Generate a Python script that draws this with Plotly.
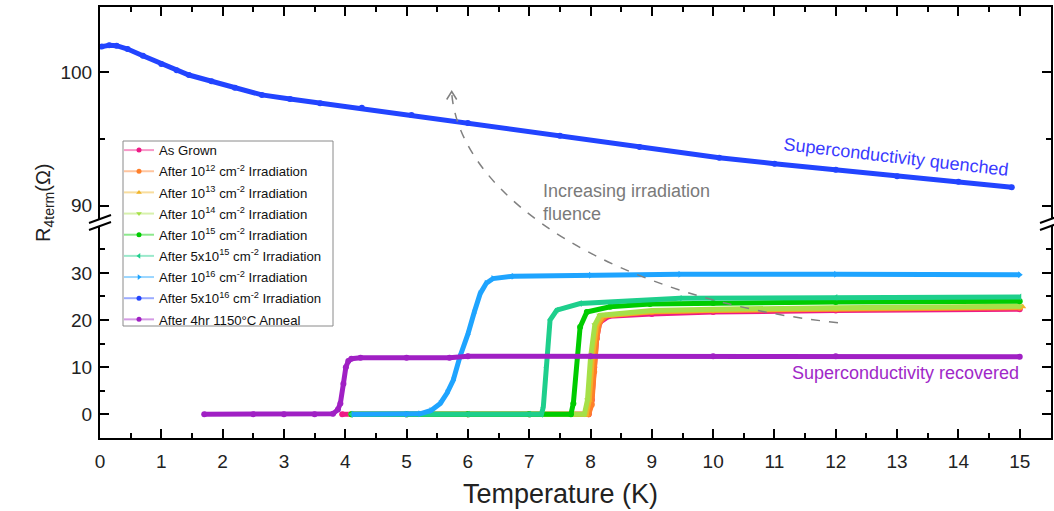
import plotly.graph_objects as go

# ---------------- data ----------------
names = [
    "As Grown",
    "After 10<sup>12</sup> cm<sup>-2</sup> Irradiation",
    "After 10<sup>13</sup> cm<sup>-2</sup> Irradiation",
    "After 10<sup>14</sup> cm<sup>-2</sup> Irradiation",
    "After 10<sup>15</sup> cm<sup>-2</sup> Irradiation",
    "After 5x10<sup>15</sup> cm<sup>-2</sup> Irradiation",
    "After 10<sup>16</sup> cm<sup>-2</sup> Irradiation",
    "After 5x10<sup>16</sup> cm<sup>-2</sup> Irradiation",
    "After 4hr 1150°C Anneal",
]
colors = ["#ee1a86", "#ff7f2a", "#f0b428", "#a6e048", "#00cc00",
          "#1ecf8c", "#1ea4ff", "#2244ff", "#a020c4"]
light = ["rgba(238,26,134,0.45)", "rgba(255,127,42,0.45)", "rgba(240,180,40,0.45)",
         "rgba(166,224,72,0.45)", "rgba(0,204,0,0.45)", "rgba(30,207,140,0.45)",
         "rgba(30,164,255,0.45)", "rgba(34,68,255,0.45)", "rgba(160,32,196,0.45)"]
symbols = ["circle", "circle", "triangle-up", "triangle-down", "circle",
           "triangle-left", "triangle-right", "circle", "circle"]

T_grown = [3.95, 5.0, 6.0, 7.0, 7.97, 8.02, 8.06, 8.1, 8.15, 8.3, 9.0, 10.0, 12.0, 15.0]
R_grown = [0, 0, 0, 0, 0, 3, 10, 16, 19.5, 20.8, 21.3, 21.7, 22.0, 22.3]

T_e12 = [4.1, 5.0, 6.0, 7.0, 7.97, 8.02, 8.06, 8.1, 8.15, 8.25, 9.0, 10.0, 12.0, 15.0]
R_e12 = [0, 0, 0, 0, 0, 2, 9, 16, 19.5, 20.9, 21.7, 22.0, 22.3, 22.6]

T_e13 = [4.1, 5.0, 6.0, 7.0, 7.93, 7.98, 8.03, 8.1, 8.2, 9.0, 10.0, 12.0, 15.05]
R_e13 = [0, 0, 0, 0, 0, 3, 12, 19, 20.9, 21.8, 22.1, 22.4, 22.8]

T_e14 = [4.1, 5.0, 6.0, 7.0, 7.9, 7.95, 8.0, 8.07, 8.15, 9.0, 10.0, 12.0, 15.0]
R_e14 = [0, 0, 0, 0, 0, 3, 12, 19, 21.0, 22.0, 22.3, 22.6, 22.9]

T_e15 = [4.1, 5.0, 6.0, 7.0, 7.68, 7.72, 7.78, 7.83, 7.94, 8.32, 8.97, 10.0, 12.0, 15.0]
R_e15 = [0, 0, 0, 0, 0, 2.3, 12.2, 18.5, 21.7, 22.8, 23.4, 23.6, 23.8, 24.0]

T_5e15 = [4.1, 5.0, 6.0, 7.0, 7.2, 7.23, 7.28, 7.34, 7.45, 7.83, 9.46, 12.0, 15.0]
R_5e15 = [0, 0, 0, 0, 0, 1.5, 10, 20, 22.1, 23.5, 24.6, 24.8, 24.9]

T_e16 = [4.13, 5.0, 5.22, 5.4, 5.55, 5.66, 5.76, 5.87, 6.0, 6.1, 6.2, 6.3, 6.41, 6.74,
         8.0, 9.46, 12.0, 15.0]
R_e16 = [0, 0, 0.1, 0.8, 2.3, 4.5, 7.2, 12.2, 17.0, 21.5, 25.6, 27.8, 28.8, 29.3,
         29.5, 29.7, 29.7, 29.6]

T_5e16 = [0.03, 0.15, 0.27, 0.45, 0.7, 1.0, 1.25, 1.45, 1.82, 2.2, 2.64, 3.1, 3.59, 4.27,
          5.08, 6.0, 7.5, 8.8, 10.1, 11.0, 12.0, 13.0, 14.0, 14.87]
R_5e16 = [101.93, 102.03, 102.0, 101.75, 101.25, 100.63, 100.15, 99.8, 99.33, 98.85,
          98.31, 98.0, 97.69, 97.34, 96.8, 96.2, 95.25, 94.4, 93.6, 93.15, 92.7, 92.2,
          91.8, 91.38]

T_anneal = [1.7, 2.5, 3.0, 3.5, 3.8, 3.88, 3.92, 3.97, 4.01, 4.05, 4.1, 4.25, 5.0, 5.7,
            6.0, 8.0, 10.0, 12.0, 15.0]
R_anneal = [0, 0, 0, 0, 0.1, 1.0, 2.3, 6.5, 10.0, 11.3, 11.8, 12.0, 12.0, 12.0,
            12.3, 12.3, 12.3, 12.3, 12.2]

series_T = [T_grown, T_e12, T_e13, T_e14, T_e15, T_5e15, T_e16, T_5e16, T_anneal]
series_R = [R_grown, R_e12, R_e13, R_e14, R_e15, R_5e15, R_e16, R_5e16, R_anneal]
upper = [False, False, False, False, False, False, False, True, False]

x_ticks = list(range(0, 16))
y_low_ticks = [0, 10, 20, 30]
y_up_ticks = [90, 100]

# ---------------- figure ----------------
W, H = 1054, 511
ML, MR, MT, MB = 100, 3, 7, 73
PW, PH = W - ML - MR, H - MT - MB


def px(x):
    return (x - ML) / PW


def py(y):
    return (H - MB - y) / PH


fig = go.Figure()

for i in range(len(names)):
    xa, ya = ("x2", "y2") if upper[i] else ("x", "y")
    fig.add_trace(go.Scatter(
        x=series_T[i], y=series_R[i], xaxis=xa, yaxis=ya,
        mode="lines+markers", showlegend=False,
        line=dict(color=colors[i], width=5),
        marker=dict(color=colors[i], size=6, symbol=symbols[i]),
    ))

# legend-only entries (thin line + small marker like the reference legend)
for i in range(len(names)):
    fig.add_trace(go.Scatter(
        x=[None], y=[None], name=names[i], mode="lines+markers",
        legendgroup="g%d" % i,
        line=dict(color=light[i], width=2),
        marker=dict(color=colors[i], size=5, symbol=symbols[i]),
    ))

tick_font = dict(family="Liberation Sans, Arial", size=19, color="#222")
axis_common = dict(showline=True, linecolor="black", linewidth=2, ticks="inside",
                   ticklen=9, tickwidth=2, tickcolor="black", showgrid=False,
                   zeroline=False, tickfont=tick_font)
minor_x = dict(dtick=0.5, ticks="inside", ticklen=5, tickwidth=1.5, tickcolor="black")

fig.update_layout(
    width=W, height=H,
    margin=dict(l=ML, r=MR, t=MT, b=MB, autoexpand=False),
    paper_bgcolor="white", plot_bgcolor="white",
    xaxis=dict(domain=[0, 1], anchor="y", range=[0, 15.51], tickvals=x_ticks,
               minor=minor_x, ticklabelstandoff=5, **axis_common),
    xaxis2=dict(domain=[0, 1], anchor="y2", matches="x", side="top", showticklabels=False,
                range=[0, 15.51], tickvals=x_ticks, minor=minor_x, **axis_common),
    yaxis=dict(domain=[0, 0.5], anchor="x", range=[-5.04, 40.7], tickvals=y_low_ticks,
               mirror="ticks", ticklabelstandoff=2,
               minor=dict(tickvals=[5, 15, 25, 35], ticks="inside", ticklen=5, tickwidth=1.5,
                          tickcolor="black"),
               **axis_common),
    yaxis2=dict(domain=[0.5, 1], anchor="x2", range=[88.74, 104.9], tickvals=y_up_ticks,
                mirror="ticks", ticklabelstandoff=2,
                minor=dict(tickvals=[95], ticks="inside", ticklen=5, tickwidth=1.5,
                           tickcolor="black"),
                **axis_common),
    legend=dict(x=px(119), y=py(135), xanchor="left", yanchor="top",
                bgcolor="rgba(0,0,0,0)", borderwidth=0,
                font=dict(family="Liberation Sans, Arial", size=13.2, color="#111"),
                tracegroupgap=1, itemwidth=30),
)

# legend frame
fig.add_shape(type="rect", xref="paper", yref="paper",
              x0=px(123), x1=px(333), y0=py(326), y1=py(141),
              line=dict(color="#8a8a8a", width=1), fillcolor="rgba(0,0,0,0)")

# axis titles as annotations
fig.add_annotation(xref="paper", yref="paper", x=px(560), y=py(494),
                   xanchor="center", yanchor="middle",
                   text="Temperature (K)", showarrow=False,
                   font=dict(family="Liberation Sans, Arial", size=27, color="#222"))
fig.add_annotation(xref="paper", yref="paper", x=px(44), y=py(203),
                   xanchor="center", yanchor="middle",
                   text="R<sub>4term</sub>(Ω)", showarrow=False, textangle=-90,
                   font=dict(family="Liberation Sans, Arial", size=20, color="#222"))

# text labels
fig.add_annotation(xref="paper", yref="paper", x=px(896), y=py(157),
                   xanchor="center", yanchor="middle",
                   text="Superconductivity quenched", showarrow=False, textangle=6.6,
                   font=dict(family="Liberation Sans, Arial", size=18, color="#3a3aff"))
fig.add_annotation(xref="paper", yref="paper", x=px(905), y=py(373),
                   xanchor="center", yanchor="middle",
                   text="Superconductivity recovered", showarrow=False,
                   font=dict(family="Liberation Sans, Arial", size=18, color="#a028c8"))
fig.add_annotation(xref="paper", yref="paper", x=px(541), y=py(202),
                   xanchor="left", yanchor="middle", align="left",
                   text="Increasing irradiation<br>fluence", showarrow=False,
                   font=dict(family="Liberation Sans, Arial", size=18, color="#7a7a7a"))

# dashed curved arrow
p0, c1, c2, p3 = (838, 322.7), (620, 300), (460, 200), (451.7, 93)
path = "M {},{} C {},{} {},{} {},{}".format(px(p0[0]), py(p0[1]), px(c1[0]), py(c1[1]),
                                           px(c2[0]), py(c2[1]), px(p3[0]), py(p3[1]))
fig.add_shape(type="path", path=path, xref="paper", yref="paper",
              line=dict(color="#808080", width=1.5, dash="dash"))
head = "M {},{} L {},{} L {},{}".format(px(446.7), py(99.5), px(451.7), py(91.5),
                                        px(456.7), py(99.5))
fig.add_shape(type="path", path=head, xref="paper", yref="paper",
              line=dict(color="#808080", width=1.5))

# axis break marks on both sides
for xb in (ML, ML + PW):
    yb = MT + PH * 0.5
    poly = "M {},{} L {},{} L {},{} L {},{} Z".format(
        px(xb - 10), py(yb + 7), px(xb + 10), py(yb - 1),
        px(xb + 10), py(yb - 7), px(xb - 10), py(yb + 1))
    fig.add_shape(type="path", path=poly, xref="paper", yref="paper",
                  fillcolor="white", line=dict(width=0), layer="above")
    for off in (-3.5, 3.5):
        seg = "M {},{} L {},{}".format(px(xb - 11), py(yb + 4 + off), px(xb + 11), py(yb - 4 + off))
        fig.add_shape(type="path", path=seg, xref="paper", yref="paper",
                      line=dict(color="black", width=2), layer="above")

fig.write_html("out.html", config={"displayModeBar": False},
               post_script="document.body.style.margin='0';document.body.style.overflow='hidden';")
